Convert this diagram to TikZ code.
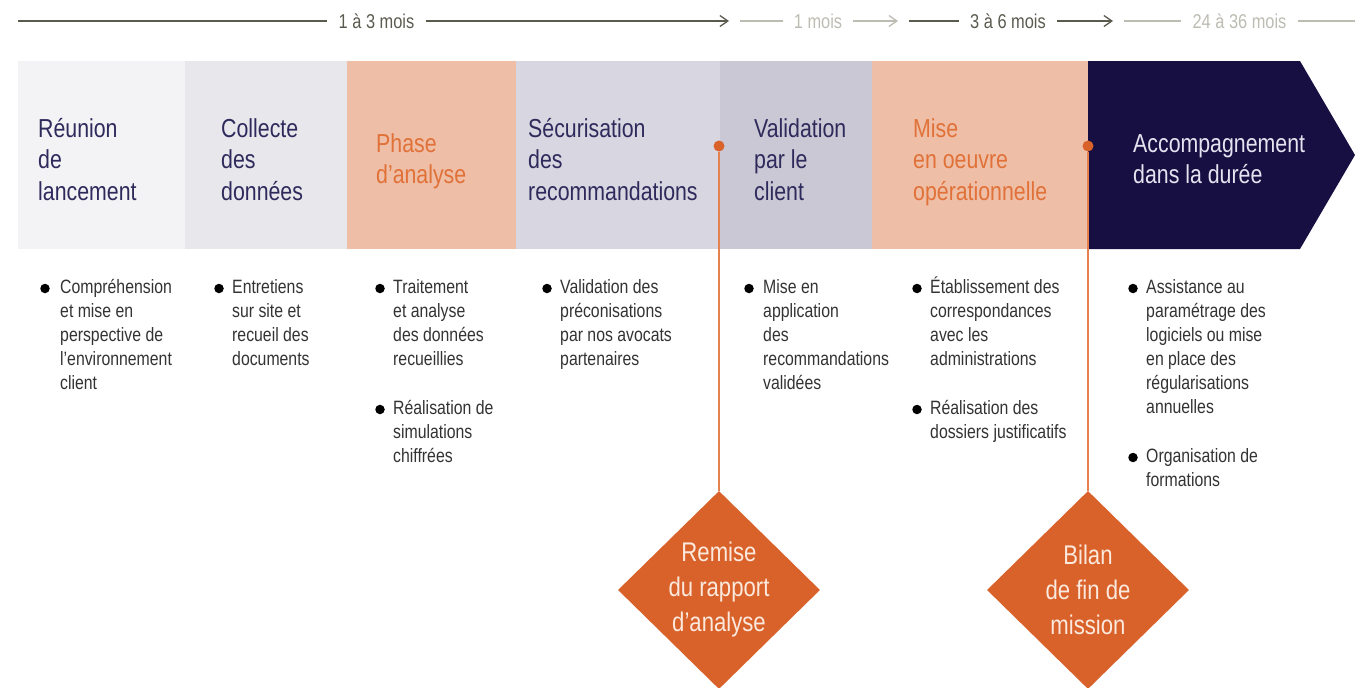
\documentclass[tikz,border=0pt]{standalone}
\usepackage{fontspec}
\setmainfont{Liberation Sans}[FakeStretch=0.82]
\usetikzlibrary{arrows.meta}
\usetikzlibrary{shapes.geometric}
\pgfdeclarelayer{bandlayer}
\pgfdeclarelayer{edgelayer}
\pgfdeclarelayer{nodelayer}
\pgfsetlayers{bandlayer,edgelayer,nodelayer,main}
\definecolor{tldark}{HTML}{5B5A4F}
\definecolor{tllight}{HTML}{BDBCB2}
\definecolor{bandA}{HTML}{F3F2F5}
\definecolor{bandB}{HTML}{E8E7EC}
\definecolor{bandC}{HTML}{EFBEA6}
\definecolor{bandD}{HTML}{D8D6E0}
\definecolor{bandE}{HTML}{CBC8D5}
\definecolor{bandF}{HTML}{170F42}
\definecolor{navytext}{HTML}{2E2A5C}
\definecolor{orangetext}{HTML}{E07138}
\definecolor{lavtext}{HTML}{E6E3F0}
\definecolor{itemtext}{HTML}{333333}
\definecolor{orangedark}{HTML}{D9612A}
\definecolor{orangeline}{HTML}{E5804F}
\definecolor{cream}{HTML}{FBE9DD}
\tikzstyle{none}=[inner sep=0pt]
\tikzstyle{timetext}=[inner sep=0pt,inner xsep=11pt,font=\fontsize{20}{22}\selectfont]
\tikzstyle{darkspan}=[-,draw=tldark,line width=1.3pt]
\tikzstyle{lightspan}=[-,draw=tllight,line width=1.3pt]
\tikzstyle{spanarrow}=[-{Straight Barb[length=8pt,width=11pt]}]
\tikzstyle{phase}=[inner sep=0pt,anchor=base west,align=left,font=\fontsize{26}{31.5}\selectfont,text=navytext]
\tikzstyle{item}=[inner sep=0pt,anchor=base west,align=left,font=\fontsize{19.3}{24}\selectfont,text=itemtext]
\tikzstyle{bullet}=[circle,fill=black,inner sep=0pt,minimum size=9.5pt]
\tikzstyle{milestone}=[circle,fill=orangedark,inner sep=0pt,minimum size=11pt]
\tikzstyle{deliverable}=[diamond,fill=orangedark,inner sep=0pt,minimum width=202pt,minimum height=198pt,align=center,text=cream,font=\fontsize{27}{35}\selectfont]
\tikzstyle{stem}=[-,draw=orangeline,line width=1.6pt]

\begin{document}
\begin{tikzpicture}[x=1pt,y=-1pt]
	\useasboundingbox (0,0) rectangle (1355,688);
	\begin{pgfonlayer}{bandlayer}
		\fill[bandA] (18,61) rectangle (185,249);
		\fill[bandB] (185,61) rectangle (347,249);
		\fill[bandC] (347,61) rectangle (516,249);
		\fill[bandD] (516,61) rectangle (720,249);
		\fill[bandE] (720,61) rectangle (872,249);
		\fill[bandC] (872,61) rectangle (1088,249);
		\fill[bandF] (1088,61) -- (1300,61) -- (1355,155) -- (1300,249) -- (1088,249) -- cycle;
	\end{pgfonlayer}
	\begin{pgfonlayer}{nodelayer}
		% time line
		\coordinate (0) at (18,21);
		\node [style=timetext, text=tldark] (1) at (376.5,21) {1 à 3 mois};
		\coordinate (2) at (729,21);
		\coordinate (3) at (740,21);
		\node [style=timetext, text=tllight] (4) at (818,21) {1 mois};
		\coordinate (5) at (898,21);
		\coordinate (6) at (909,21);
		\node [style=timetext, text=tldark] (7) at (1008,21) {3 à 6 mois};
		\coordinate (8) at (1113,21);
		\coordinate (9) at (1124,21);
		\node [style=timetext, text=tllight] (10) at (1239.5,21) {24 à 36 mois};
		\coordinate (11) at (1355,21);
		% phases (base = last line)
		\node [style=phase] (12) at (38,200) {Réunion\\de\\lancement};
		\node [style=phase] (13) at (221,200) {Collecte\\des\\données};
		\node [style=phase, text=orangetext] (14) at (376,183.5) {Phase\\d’analyse};
		\node [style=phase] (15) at (528,200) {Sécurisation\\des\\recommandations};
		\node [style=phase] (16) at (754,200) {Validation\\par le\\client};
		\node [style=phase, text=orangetext] (17) at (913,200) {Mise\\en oeuvre\\opérationnelle};
		\node [style=phase, text=lavtext] (18) at (1133,183.5) {Accompagnement\\dans la durée};
		% tasks
		\node [style=bullet] (19) at (45,288.5) {};
		\node [style=item] (20) at (60,389) {Compréhension\\et mise en\\perspective de\\l’environnement\\client};
		\node [style=bullet] (21) at (219,288.5) {};
		\node [style=item] (22) at (232,365) {Entretiens\\sur site et\\recueil des\\documents};
		\node [style=bullet] (23) at (380,288.5) {};
		\node [style=item] (24) at (393,365) {Traitement\\et analyse\\des données\\recueillies};
		\node [style=bullet] (25) at (380,409.5) {};
		\node [style=item] (26) at (393,462) {Réalisation de\\simulations\\chiffrées};
		\node [style=bullet] (27) at (547,288.5) {};
		\node [style=item] (28) at (560,365) {Validation des\\préconisations\\par nos avocats\\partenaires};
		\node [style=bullet] (29) at (749,288.5) {};
		\node [style=item] (30) at (763,389) {Mise en\\application\\des\\recommandations\\validées};
		\node [style=bullet] (31) at (917,288.5) {};
		\node [style=item] (32) at (930,365) {Établissement des\\correspondances\\avec les\\administrations};
		\node [style=bullet] (33) at (917,409.5) {};
		\node [style=item] (34) at (930,438) {Réalisation des\\dossiers justificatifs};
		\node [style=bullet] (35) at (1133,288.5) {};
		\node [style=item] (36) at (1146,413) {Assistance au\\paramétrage des\\logiciels ou mise\\en place des\\régularisations\\annuelles};
		\node [style=bullet] (37) at (1133,457.5) {};
		\node [style=item] (38) at (1146,486) {Organisation de\\formations};
		% milestones
		\node [style=milestone] (39) at (719,146) {};
		\node [style=deliverable] (40) at (719,590) {Remise\\du rapport\\d’analyse};
		\node [style=milestone] (41) at (1088,146) {};
		\node [style=deliverable] (42) at (1088,590) {Bilan\\de fin de\\mission};
	\end{pgfonlayer}
	\begin{pgfonlayer}{edgelayer}
		\draw [style=darkspan] (0) to (1.west |- 0);
		\draw [style=darkspan, style=spanarrow] (1.east |- 0) to (2);
		\draw [style=lightspan] (3) to (4.west |- 3);
		\draw [style=lightspan, style=spanarrow] (4.east |- 3) to (5);
		\draw [style=darkspan] (6) to (7.west |- 6);
		\draw [style=darkspan, style=spanarrow] (7.east |- 6) to (8);
		\draw [style=lightspan] (9) to (10.west |- 9);
		\draw [style=lightspan] (10.east |- 9) to (11);
		\draw [style=stem] (39) to (40.north);
		\draw [style=stem] (41) to (42.north);
	\end{pgfonlayer}
\end{tikzpicture}
\end{document}
